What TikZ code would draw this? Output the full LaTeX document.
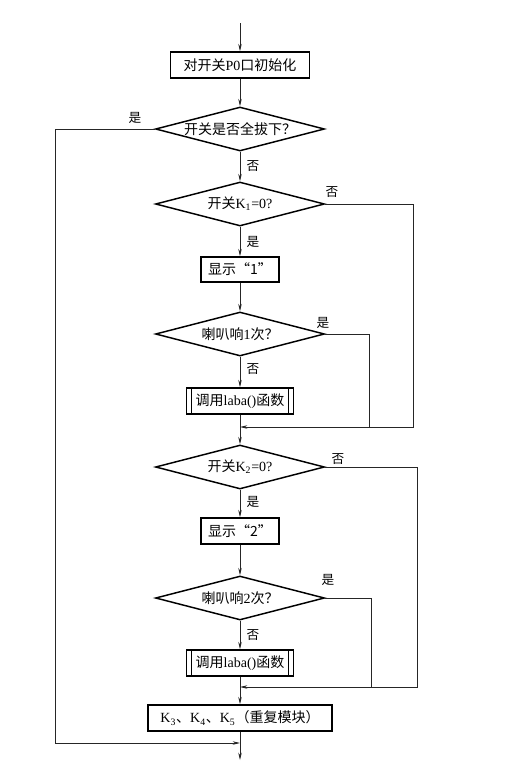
\documentclass[tikz,border=0pt]{standalone}
\usepackage{fontspec}
\setmainfont{Liberation Serif}
\newfontfamily\cjk{Noto Sans CJK SC}
\usetikzlibrary{shapes.geometric,arrows.meta}
\begin{document}
\begin{tikzpicture}[x=0.75pt,y=-0.75pt,
  txt/.style={font=\fontsize{10.5}{12}\selectfont},
  box/.style={txt,draw,line width=1.1pt,minimum height={26*0.75pt},inner sep=0pt},
  dia/.style={txt,draw,diamond,line width=1.1pt,minimum width={169*0.75pt},minimum height={44*0.75pt},inner sep=0pt,shape aspect=3.8},
  conn/.style={line width=0.5pt,draw=black!85},
  arr/.style={conn,-{Stealth[length=5.5pt,width=2.6pt]}},
  lab/.style={font=\fontsize{9.5}{11}\selectfont,inner sep=0pt}]
\useasboundingbox (0,0) rectangle (514,775);

\coordinate (start) at (240,23);
\node[box,minimum width={139*0.75pt}] (init) at (240,65) {{\cjk 对开关}P0{\cjk 口初始化}};
\node[dia] (d1) at (240,129) {{\cjk 开关是否全拔下？}};
\node[dia] (d2) at (240,204) {{\cjk 开关}K\textsubscript{1}=0?};
\node[box,minimum width={78*0.75pt},minimum height={25*0.75pt}] (s1) at (240,269.5) {{\cjk 显示“1”}};
\node[dia] (d3) at (240,334) {{\cjk 喇叭响}1{\cjk 次？}};
\node[box,minimum width={107*0.75pt}] (c1) at (240,401) {{\cjk 调用}laba(){\cjk 函数}};
\coordinate (m1) at (240,427);
\node[dia] (d4) at (240,467) {{\cjk 开关}K\textsubscript{2}=0?};
\node[box,minimum width={78*0.75pt}] (s2) at (240,531) {{\cjk 显示“2”}};
\node[dia] (d5) at (240,598) {{\cjk 喇叭响}2{\cjk 次？}};
\node[box,minimum width={107*0.75pt}] (c2) at (240,663) {{\cjk 调用}laba(){\cjk 函数}};
\coordinate (m2) at (240,687);
\node[box,minimum width={184*0.75pt}] (k) at (240,718) {K\textsubscript{3}{\cjk 、}K\textsubscript{4}{\cjk 、}K\textsubscript{5}{\cjk （重复模块）}};
\coordinate (m3) at (240,743);
\coordinate (end) at (240,760);

% predefined-process inner lines
\draw[line width=0.6pt] ([xshift=4.5pt]c1.north west) -- ([xshift=4.5pt]c1.south west);
\draw[line width=0.6pt] ([xshift=-4.5pt]c1.north east) -- ([xshift=-4.5pt]c1.south east);
\draw[line width=0.6pt] ([xshift=4.5pt]c2.north west) -- ([xshift=4.5pt]c2.south west);
\draw[line width=0.6pt] ([xshift=-4.5pt]c2.north east) -- ([xshift=-4.5pt]c2.south east);

% main flow
\draw[arr] (start) -- (init);
\draw[arr] (init) -- (d1);
\draw[arr] (d1) -- (d2);
\draw[arr] (d2) -- (s1);
\draw[arr] (s1) -- (d3);
\draw[arr] (d3) -- (c1);
\draw[arr] (c1) -- (d4);
\draw[arr] (d4) -- (s2);
\draw[arr] (s2) -- (d5);
\draw[arr] (d5) -- (c2);
\draw[arr] (c2) -- (k);
\draw[arr] (k) -- (end);

% side branches
\coordinate (L) at (55,743);
\draw[arr] (d1.west) -| (L) -- (m3);
\coordinate (R1) at (413,427);
\draw[arr] (d2.east) -| (R1) -- (m1);
\coordinate (R2) at (369,427);
\draw[conn] (d3.east) -| (R2);
\coordinate (R3) at (417,687);
\draw[arr] (d4.east) -| (R3) -- (m2);
\coordinate (R4) at (371,687);
\draw[conn] (d5.east) -| (R4);

% labels
\node[lab] (l1) at (135,118) {\cjk 是};
\node[lab] (l2) at (253,166) {\cjk 否};
\node[lab] (l3) at (332,192) {\cjk 否};
\node[lab] (l4) at (253,242) {\cjk 是};
\node[lab] (l5) at (323,323) {\cjk 是};
\node[lab] (l6) at (253,369) {\cjk 否};
\node[lab] (l7) at (338,459) {\cjk 否};
\node[lab] (l8) at (253,502) {\cjk 是};
\node[lab] (l9) at (328,580) {\cjk 是};
\node[lab] (l10) at (253,635) {\cjk 否};
\end{tikzpicture}
\end{document}
